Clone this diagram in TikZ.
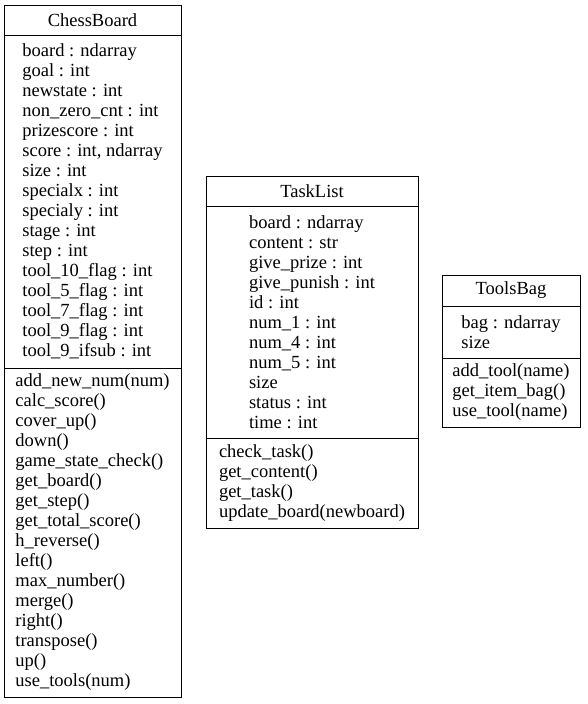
\documentclass[tikz,border=0pt]{standalone}
\usepackage{fontspec}
\setmainfont{Liberation Serif}
\begin{document}
\begin{tikzpicture}[x=1pt,y=-1pt,
  box/.style={draw=black, line width=0.8pt},
  sep/.style={draw=black, line width=0.8pt},
  txt/.style={font=\fontsize{18.5}{20}\selectfont, align=left, inner sep=0pt},
  ttl/.style={font=\fontsize{18.5}{20}\selectfont, inner sep=0pt}]
\useasboundingbox (0,0) rectangle (587,704);
\fill[white] (0,0) rectangle (587,704);
% ChessBoard
\draw[box] (4,5) rectangle (181,697);
\draw[sep] (4,35) -- (181,35);
\draw[sep] (4,368) -- (181,368);
\node[ttl] (cbt) at (92.5,20) {ChessBoard};
\node[txt] (cba) at (92.5,201.5) {board : ndarray\\goal : int\\newstate : int\\non\_zero\_cnt : int\\prizescore : int\\score : int, ndarray\\size : int\\specialx : int\\specialy : int\\stage : int\\step : int\\tool\_10\_flag : int\\tool\_5\_flag : int\\tool\_7\_flag : int\\tool\_9\_flag : int\\tool\_9\_ifsub : int};
\node[txt] (cbm) at (92.5,532.5) {add\_new\_num(num)\\calc\_score()\\cover\_up()\\down()\\game\_state\_check()\\get\_board()\\get\_step()\\get\_total\_score()\\h\_reverse()\\left()\\max\_number()\\merge()\\right()\\transpose()\\up()\\use\_tools(num)};
% TaskList
\draw[box] (206,176) rectangle (418,528);
\draw[sep] (206,206) -- (418,206);
\draw[sep] (206,438) -- (418,438);
\node[ttl] (tlt) at (312,191) {TaskList};
\node[txt] (tla) at (312,322) {board : ndarray\\content : str\\give\_prize : int\\give\_punish : int\\id : int\\num\_1 : int\\num\_4 : int\\num\_5 : int\\size\\status : int\\time : int};
\node[txt] (tlm) at (312,483) {check\_task()\\get\_content()\\get\_task()\\update\_board(newboard)};
% ToolsBag
\draw[box] (442,275) rectangle (580,427);
\draw[sep] (442,306) -- (580,306);
\draw[sep] (442,358) -- (580,358);
\node[ttl] (tbt) at (511,290.5) {ToolsBag};
\node[txt] (tba) at (511,332) {bag : ndarray\\size};
\node[txt] (tbm) at (511,392.5) {add\_tool(name)\\get\_item\_bag()\\use\_tool(name)};
\end{tikzpicture}
\end{document}
